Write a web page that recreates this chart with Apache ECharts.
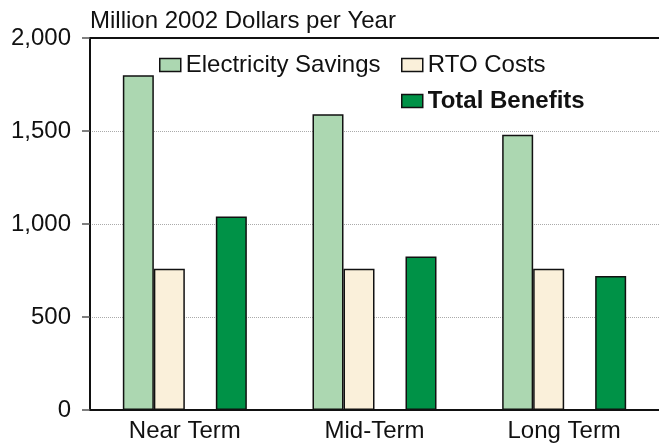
<!DOCTYPE html>
<html>
<head>
<meta charset="utf-8">
<script src="https://cdn.jsdelivr.net/npm/echarts@6/dist/echarts.min.js"></script>
<style>
html,body{margin:0;padding:0;background:#fff;}
#chart{width:659px;height:446px;}
</style>
</head>
<body>
<div id="chart"></div>
<script>
var categories = ['Near Term', 'Mid-Term', 'Long Term'];
var electricitySavings = [1800, 1590, 1480];
var rtoCosts = [760, 760, 760];
var totalBenefits = [1040, 825, 720];
var yTicks = [0, 500, 1000, 1500, 2000];
var unitLabel = 'Million 2002 Dollars per Year';

var FONT = "'Liberation Sans', Arial, sans-serif";
var FS = 24;
var chart = echarts.init(document.getElementById('chart'));
var border = {borderColor: '#111', borderWidth: 1.5};
function legendCfg(name, left, top, bold) {
  return {
    data: [name], left: left, top: top, padding: 0,
    itemWidth: 21, itemHeight: 13,
    icon: 'rect',
    itemStyle: border,
    textStyle: {fontFamily: FONT, fontSize: FS, fontWeight: bold ? 'bold' : 'normal', color: '#111'}
  };
}
chart.setOption({
  animation: false,
  backgroundColor: '#fff',
  textStyle: {fontFamily: FONT},
  title: {
    text: unitLabel,
    left: 85, top: 4,
    textStyle: {fontFamily: FONT, fontSize: FS, fontWeight: 'normal', color: '#111'}
  },
  legend: [
    legendCfg('Electricity Savings', 159, 53, false),
    legendCfg('RTO Costs', 401, 53, false),
    legendCfg('Total Benefits', 401, 89, true)
  ],
  grid: {
    left: 90, right: -1, top: 38, bottom: 36,
    show: false,
    containLabel: false
  },
  xAxis: [
    {
      type: 'category',
      data: categories,
      axisLine: {lineStyle: {color: '#111', width: 2}},
      axisTick: {show: false},
      axisLabel: {fontFamily: FONT, fontSize: FS, color: '#111', margin: 9}
    },
    {
      type: 'category',
      position: 'top',
      data: categories,
      axisLine: {show: true, lineStyle: {color: '#111', width: 2}},
      axisTick: {show: false},
      axisLabel: {show: false}
    }
  ],
  yAxis: {
    type: 'value',
    min: yTicks[0], max: yTicks[yTicks.length - 1], interval: 500,
    axisLine: {show: true, lineStyle: {color: '#111', width: 2}},
    axisTick: {show: true, length: 8, lineStyle: {color: '#555', width: 1.5}},
    axisLabel: {
      fontFamily: FONT, fontSize: FS, color: '#111', margin: 19,
      formatter: function (v) { return v.toLocaleString('en-US'); }
    },
    splitLine: {show: true, lineStyle: {color: '#aaa', type: 'dotted', width: 1}}
  },
  series: [
    {name: 'Electricity Savings', type: 'bar', data: electricitySavings, barWidth: 31, barGap: '0%',
     itemStyle: {color: '#acd7b1', borderColor: '#111', borderWidth: 1.5}},
    {name: 'RTO Costs', type: 'bar', data: rtoCosts, barWidth: 31, barGap: '0%',
     itemStyle: {color: '#faf0da', borderColor: '#111', borderWidth: 1.5}},
    {name: 'spacer', type: 'bar', data: ['-', '-', '-'], barWidth: 31, barGap: '0%',
     itemStyle: {color: 'transparent'}},
    {name: 'Total Benefits', type: 'bar', data: totalBenefits, barWidth: 31, barGap: '0%',
     itemStyle: {color: '#009247', borderColor: '#111', borderWidth: 1.5}}
  ]
});
</script>
</body>
</html>
